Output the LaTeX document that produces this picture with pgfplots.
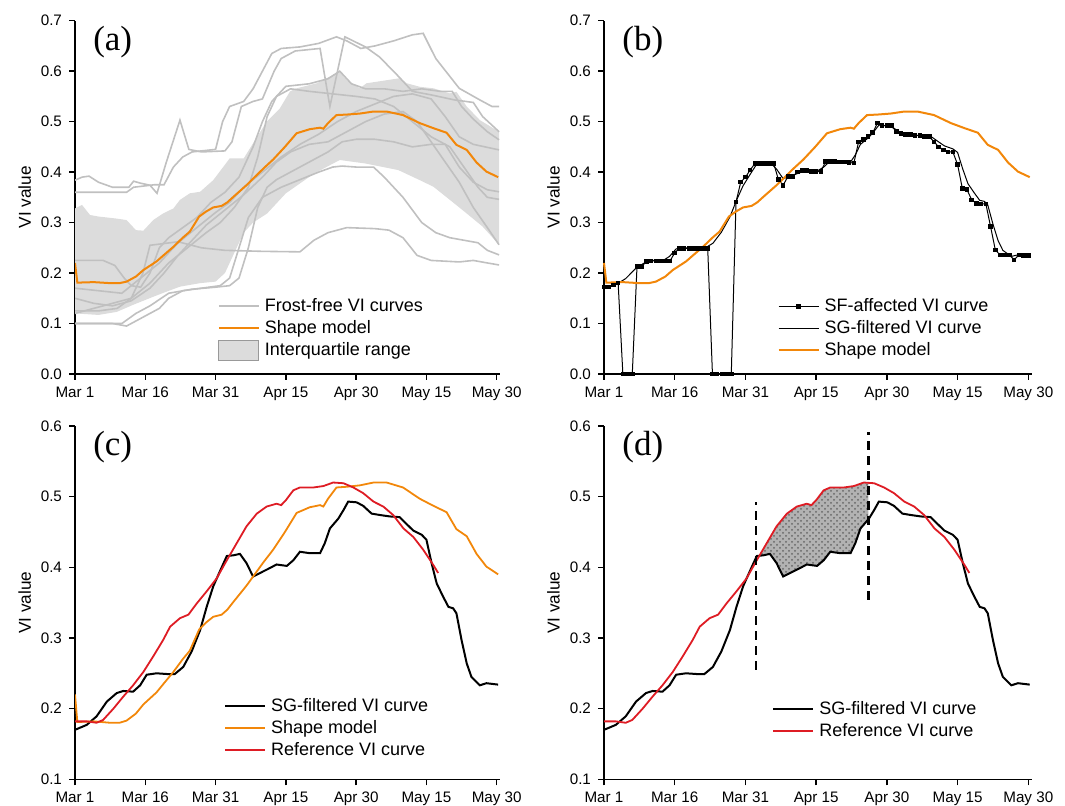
\documentclass[border=0pt]{standalone}
\usepackage{pgfplots}
\pgfplotsset{compat=1.18}
\usepackage{pgfplotstable}
\usetikzlibrary{patterns}
\usepackage{fontspec}
\setmainfont{Liberation Sans}
\newfontfamily\serifpanel{Liberation Serif}

\definecolor{lgray}{RGB}{192,192,192}
\definecolor{bandc}{RGB}{220,220,220}
\definecolor{orng}{RGB}{242,135,10}
\definecolor{redc}{RGB}{222,28,36}

\pgfplotstableread{
day val
0 0.22
0.5 0.181
4 0.182
7.5 0.18
9.5 0.18
11 0.183
13 0.193
14.6 0.206
17.4 0.223
19 0.236
21 0.252
23 0.27
24.5 0.282
26.5 0.312
28 0.322
29.5 0.33
31.3 0.333
32.5 0.34
33.8 0.351
36.6 0.374
40.2 0.407
42.3 0.425
44.8 0.45
47.3 0.477
50.1 0.485
52.3 0.488
53 0.486
54 0.497
55.8 0.513
58 0.514
60.8 0.516
63.7 0.52
66.5 0.52
70 0.513
73.6 0.497
76.5 0.487
79.3 0.478
81.4 0.454
83.6 0.444
85.7 0.419
87.8 0.401
90.3 0.39
}\shapetab

\pgfplotstableread{
day val
0 0.17
2.5 0.177
4.6 0.189
6.8 0.21
8.9 0.222
10.3 0.225
12.4 0.224
13.9 0.233
15.3 0.248
17.4 0.25
19.6 0.249
21.3 0.249
23.1 0.259
24.9 0.281
26.7 0.311
28.1 0.344
29.5 0.373
30.9 0.394
32.4 0.416
33.8 0.417
35.2 0.419
36.6 0.406
38 0.387
39.5 0.392
41.6 0.399
43 0.404
45.2 0.402
46.6 0.41
48 0.422
50.1 0.42
52.3 0.42
53.3 0.434
54.4 0.455
56.2 0.469
57.3 0.481
58.3 0.493
60.1 0.492
61.5 0.487
63.3 0.476
65.1 0.474
67.2 0.472
69.3 0.471
70.8 0.461
72.2 0.452
74 0.446
75 0.439
76.1 0.406
77.2 0.377
78.6 0.358
79.7 0.344
80.7 0.342
81.4 0.335
82.5 0.297
83.6 0.264
84.6 0.245
86.4 0.233
87.8 0.236
90.3 0.234
}\sgtab

\pgfplotstableread{
day val
0 0.182
2.5 0.182
4.6 0.18
6 0.184
8.2 0.2
10.3 0.217
12.4 0.233
14.6 0.252
16.7 0.274
18.8 0.297
20.3 0.316
22.4 0.328
24.2 0.333
26 0.349
28.1 0.366
30.2 0.384
32.4 0.41
34.5 0.434
36.6 0.458
38.8 0.476
40.9 0.486
43 0.49
44 0.488
45 0.495
46.6 0.509
48 0.513
50.9 0.513
53 0.515
55.1 0.52
57.3 0.519
59.4 0.513
61.5 0.505
63.7 0.493
65.8 0.486
67.9 0.474
70.1 0.455
72.2 0.443
74.3 0.425
76.5 0.403
77.5 0.392
}\reftab

\pgfplotstableread{
day val
0 0.172
1 0.172
2 0.176
3 0.18
4 0
5 0
6 0
7 0.213
8 0.213
9 0.223
10 0.224
11 0.224
12 0.224
13 0.224
14 0.224
15 0.24
16 0.249
17 0.249
18 0.249
19 0.249
20 0.249
21 0.249
22 0.249
23 0
24 0
25 0
26 0
27 0
28 0.341
29 0.38
30 0.39
31 0.404
32 0.417
33 0.417
34 0.417
35 0.417
36 0.417
37 0.385
38 0.374
39 0.391
40 0.391
41 0.4
42 0.403
43 0.403
44 0.401
45 0.401
46 0.401
47 0.421
48 0.421
49 0.421
50 0.42
51 0.42
52 0.419
53 0.418
54 0.46
55 0.465
56 0.47
57 0.478
58 0.497
59 0.492
60 0.492
61 0.492
62 0.48
63 0.477
64 0.475
65 0.474
66 0.473
67 0.472
68 0.471
69 0.47
70 0.46
71 0.45
72 0.444
73 0.44
74 0.44
75 0.415
76 0.368
77 0.365
78 0.345
79 0.338
80 0.337
81 0.337
82 0.292
83 0.246
84 0.236
85 0.236
86 0.236
87 0.226
88 0.236
89 0.235
90 0.235
}\sftab

\tikzset{plabel/.style={anchor=west, inner sep=0pt, font=\serifpanel\fontsize{17.5}{18}\selectfont}}

\pgfplotsset{
  panel/.style={
    scale only axis,
    axis x line*=bottom, axis y line*=left,
    axis line style={-, line width=0.75pt},
    xmin=0, xmax=90.7,
    xtick={0,15,30,45,60,75,90},
    xticklabels={Mar 1, Mar 16, Mar 31, Apr 15, Apr 30, May 15, May 30},
    tick align=outside,
    major tick length=3pt,
    tick style={black, line width=0.75pt},
    /pgf/number format/assume math mode=true,
    yticklabel style={/pgf/number format/.cd, fixed, fixed zerofill, precision=1},
    ticklabel style={font=\fontsize{7.6}{8.5}\selectfont},
    ylabel={VI value},
    every axis y label/.style={at={(axis description cs:-0.118,0.5)}, rotate=90, anchor=center, font=\fontsize{8.6}{10}\selectfont},
    legend cell align=left,
    legend style={draw=none, fill=none, anchor=north west, inner sep=0pt,
      font=\fontsize{9}{11}\selectfont,
      nodes={inner xsep=2.5pt, inner ysep=1pt, text height=7pt, text depth=2pt}},
    legend image code/.code={\draw[mark repeat=2,mark phase=2,##1] plot coordinates {(0pt,0pt) (10pt,0pt) (20pt,0pt)};},
  },
}

\begin{document}
\begin{tikzpicture}
\useasboundingbox (0,0) rectangle (532.5pt,403pt);

% ---------------- (a)
\begin{axis}[panel, at={(37.5pt,216pt)}, anchor=south west,
  width=212.5pt, height=176.65pt, ymin=0, ymax=0.7,
  ytick={0,0.1,...,0.7},
  legend style={at={(rel axis cs:0.335,0.224)}}]
\addlegendimage{lgray, line width=0.8pt}
\addlegendentry{Frost-free VI curves}
\addlegendimage{orng, line width=1pt}
\addlegendentry{Shape model}
\addlegendimage{legend image code/.code={\draw[fill=bandc, draw=gray!80, line width=0.6pt] (0pt,-5pt) rectangle (20pt,5pt);}}
\addlegendentry{Interquartile range}

\addplot[fill=bandc, draw=none, forget plot] coordinates {
(0,0.328)(1.5,0.335)(3.2,0.315)(5,0.312)(8.8,0.308)(11,0.305)(13,0.285)(14.6,0.284)(16.7,0.305)(18.8,0.318)(21,0.328)(22.4,0.345)(24.5,0.358)(26.7,0.361)(29.5,0.384)(33,0.427)(36,0.427)(38,0.457)(40.9,0.5)(43.7,0.526)(45.9,0.56)(47.3,0.566)(51.6,0.576)(55,0.592)(56.5,0.599)(58,0.582)(60.8,0.566)(62.2,0.576)(69.3,0.586)(70.8,0.576)(73.6,0.569)(76.5,0.566)(80,0.556)(81.4,0.559)(83.6,0.53)(86.4,0.503)(90.5,0.48)
(90.5,0.256)(87,0.292)(83.6,0.318)(80,0.345)(76.5,0.371)(73.6,0.384)(69,0.404)(62,0.417)(56.5,0.424)(51,0.397)(45,0.358)(41,0.318)(38,0.30)(36,0.28)(34,0.24)(32,0.2)(30,0.183)(26.7,0.18)(22.4,0.173)(19.5,0.163)(16.7,0.153)(12.4,0.137)(8.9,0.123)(5,0.117)(0,0.12)} -- cycle;

\addplot[lgray, line width=0.8pt, forget plot] coordinates {(0,0.384)(1.5,0.39)(3,0.392)(5,0.38)(8,0.37)(11.5,0.37)(12.5,0.382)(14,0.378)(16,0.374)(17.5,0.358)(19.5,0.42)(22.4,0.503)(24.3,0.445)(27,0.44)(32,0.442)(33.5,0.46)(35.5,0.53)(38,0.54)(40,0.545)(42.5,0.6)(44,0.625)(47,0.64)(52.3,0.645)(54.4,0.53)(57.6,0.668)(62,0.648)(65,0.628)(69,0.59)(72,0.56)(76,0.553)(81,0.543)(85,0.538)(87,0.51)(90.5,0.48)};
\addplot[lgray, line width=0.8pt, forget plot] coordinates {(0,0.36)(11,0.36)(12.5,0.37)(17,0.375)(19,0.375)(21,0.41)(23,0.43)(25,0.44)(30,0.445)(31.5,0.5)(33,0.53)(36,0.54)(38,0.565)(40,0.6)(42,0.635)(44,0.645)(48,0.648)(52,0.655)(55.8,0.668)(58,0.66)(61,0.645)(64,0.65)(68,0.66)(72,0.672)(74.3,0.675)(77,0.625)(82,0.566)(86.4,0.543)(89,0.53)(90.5,0.53)};
\addplot[lgray, line width=0.8pt, forget plot] coordinates {(0,0.225)(6,0.225)(8.5,0.215)(10.5,0.19)(12,0.175)(14,0.172)(16,0.2)(18,0.25)(20,0.27)(23,0.29)(26,0.31)(29,0.34)(32,0.36)(35,0.39)(38,0.45)(40,0.5)(42,0.54)(45,0.57)(50,0.575)(54,0.585)(56.5,0.6)(59,0.575)(62,0.565)(66,0.565)(70,0.56)(74,0.565)(78,0.56)(80.5,0.56)(82.5,0.53)(85,0.505)(88,0.48)(90.5,0.464)};
\addplot[lgray, line width=0.8pt, forget plot] coordinates {(0,0.17)(5,0.165)(10,0.16)(14,0.19)(18,0.22)(22,0.26)(26,0.29)(30,0.32)(33,0.34)(36,0.37)(40,0.4)(44,0.43)(48,0.455)(52,0.475)(56,0.5)(60,0.52)(64,0.535)(68,0.55)(72,0.555)(76,0.545)(79,0.51)(82,0.47)(85,0.455)(90.5,0.444)};
\addplot[lgray, line width=0.8pt, forget plot] coordinates {(0,0.1)(6,0.1)(10,0.1)(13,0.12)(16,0.135)(20,0.16)(25,0.168)(30,0.172)(33,0.175)(35,0.19)(37,0.25)(39,0.33)(41,0.37)(43,0.385)(46,0.40)(50,0.42)(54,0.44)(57,0.46)(60,0.465)(64,0.465)(68,0.46)(72,0.45)(76,0.455)(79,0.455)(82,0.41)(85,0.38)(88,0.365)(90.5,0.361)};
\addplot[lgray, line width=0.8pt, forget plot] coordinates {(0,0.12)(4,0.13)(8,0.14)(12,0.15)(16,0.18)(20,0.22)(24,0.25)(28,0.28)(31,0.3)(34,0.33)(37,0.37)(39,0.43)(41,0.51)(43,0.55)(46,0.565)(50,0.56)(55,0.555)(60,0.55)(64,0.545)(68,0.53)(72,0.5)(76,0.47)(80,0.45)(83,0.41)(86,0.37)(88,0.35)(90.5,0.346)};
\addplot[lgray, line width=0.8pt, forget plot] coordinates {(0,0.15)(4,0.14)(8,0.135)(12,0.145)(16,0.17)(19,0.2)(22,0.235)(25,0.265)(28,0.295)(32,0.325)(36,0.355)(40,0.39)(43,0.42)(46,0.44)(50,0.455)(54,0.46)(58,0.48)(62,0.5)(66,0.515)(70,0.52)(73,0.5)(76,0.46)(79,0.42)(82,0.38)(85,0.33)(88,0.29)(90.5,0.256)};
\addplot[lgray, line width=0.8pt, forget plot] coordinates {(0,0.1)(8,0.1)(11,0.095)(14,0.11)(18,0.13)(20,0.15)(23,0.165)(27,0.17)(31,0.175)(33,0.19)(35,0.25)(37,0.31)(40,0.35)(44,0.37)(48,0.385)(52,0.4)(55,0.41)(57,0.412)(60,0.41)(63.7,0.41)(66,0.39)(70,0.35)(74,0.3)(77,0.28)(80,0.27)(83,0.265)(86,0.26)(88,0.245)(90.5,0.236)};
\addplot[lgray, line width=0.8pt, forget plot] coordinates {(0,0.125)(5,0.125)(9,0.13)(12,0.15)(14.5,0.2)(16,0.255)(22,0.262)(27,0.25)(32,0.245)(40,0.243)(48,0.242)(51,0.265)(54,0.28)(58,0.29)(64,0.288)(67,0.285)(70,0.27)(73,0.235)(76,0.225)(82,0.222)(85,0.225)(88,0.22)(90.5,0.216)};
\addplot[orng, line width=1pt, forget plot] table[x=day,y=val] {\shapetab};
\node[plabel] at (rel axis cs:0.042,0.94) {(a)};
\end{axis}

% ---------------- (b)
\begin{axis}[panel, at={(302pt,216pt)}, anchor=south west,
  width=213.8pt, height=176.65pt, ymin=0, ymax=0.7,
  ytick={0,0.1,...,0.7}, clip=false,
  legend style={at={(rel axis cs:0.405,0.224)}}]
\addlegendimage{black, line width=0.5pt, mark=square*, mark size=0.9pt}
\addlegendentry{SF-affected VI curve}
\addlegendimage{black, line width=0.5pt}
\addlegendentry{SG-filtered VI curve}
\addlegendimage{orng, line width=1pt}
\addlegendentry{Shape model}
\addplot[black, line width=0.5pt, mark=square*, mark size=0.9pt, forget plot] table[x=day,y=val] {\sftab};
\addplot[black, line width=0.5pt, forget plot] table[x=day,y=val] {\sgtab};
\addplot[orng, line width=1pt, forget plot] table[x=day,y=val] {\shapetab};
\node[plabel] at (rel axis cs:0.042,0.94) {(b)};
\end{axis}

% ---------------- (c)
\begin{axis}[panel, at={(37.5pt,13.35pt)}, anchor=south west,
  width=212.5pt, height=176.65pt, ymin=0.1, ymax=0.6,
  ytick={0.1,0.2,...,0.6},
  legend style={at={(rel axis cs:0.35,0.239)}}]
\addlegendimage{black, line width=1pt}
\addlegendentry{SG-filtered VI curve}
\addlegendimage{orng, line width=0.9pt}
\addlegendentry{Shape model}
\addlegendimage{redc, line width=0.9pt}
\addlegendentry{Reference VI curve}
\addplot[black, line width=1pt, forget plot] table[x=day,y=val] {\sgtab};
\addplot[orng, line width=0.9pt, forget plot] table[x=day,y=val] {\shapetab};
\addplot[redc, line width=0.9pt, forget plot] table[x=day,y=val] {\reftab};
\node[plabel] at (rel axis cs:0.042,0.94) {(c)};
\end{axis}

% ---------------- (d)
\begin{axis}[panel, at={(302pt,13.35pt)}, anchor=south west,
  width=213.8pt, height=176.65pt, ymin=0.1, ymax=0.6,
  ytick={0.1,0.2,...,0.6},
  legend style={at={(rel axis cs:0.393,0.231)}}]
\addlegendimage{black, line width=1pt}
\addlegendentry{SG-filtered VI curve}
\addlegendimage{redc, line width=0.9pt}
\addlegendentry{Reference VI curve}
\addplot[fill=gray!60, draw=none, postaction={pattern=crosshatch dots, pattern color=black!60}, forget plot] coordinates {
(32.2,0.408)(34.5,0.434)(36.6,0.458)(38.8,0.476)(40.9,0.486)(43,0.49)(44,0.488)(45,0.495)(46.6,0.509)(48,0.513)(50.9,0.513)(53,0.515)(55.1,0.52)(56.1,0.5195)
(56.1,0.468)(54.4,0.455)(53.3,0.434)(52.3,0.42)(50.1,0.42)(48,0.422)(46.6,0.41)(45.2,0.402)(43,0.404)(41.6,0.399)(39.5,0.392)(38,0.387)(36.6,0.406)(35.2,0.419)(33.8,0.417)(32.4,0.416)(32.2,0.413)} -- cycle;
\addplot[black, line width=1pt, forget plot] table[x=day,y=val] {\sgtab};
\addplot[redc, line width=0.9pt, forget plot] table[x=day,y=val] {\reftab};
\addplot[black, line width=1.1pt, dash pattern=on 4.5pt off 3pt, forget plot] coordinates {(32.2,0.255) (32.2,0.493)};
\addplot[black, line width=1.1pt, dash pattern=on 4.5pt off 3pt, forget plot] coordinates {(56.1,0.354) (56.1,0.592)};
\node[plabel] at (rel axis cs:0.042,0.94) {(d)};
\end{axis}
\end{tikzpicture}
\end{document}
